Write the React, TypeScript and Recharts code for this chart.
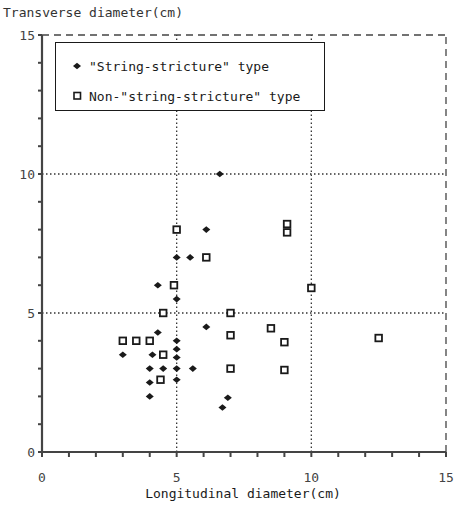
import React from 'react';
import { ScatterChart, Scatter, XAxis, YAxis, ReferenceLine, Legend } from 'recharts';

const stringType = [
  { x: 6.6, y: 10 }, { x: 6.1, y: 8 }, { x: 5, y: 7 }, { x: 5.5, y: 7 },
  { x: 4.3, y: 6 }, { x: 5, y: 5.5 }, { x: 6.1, y: 4.5 }, { x: 4.3, y: 4.3 },
  { x: 5, y: 4 }, { x: 5, y: 3.7 }, { x: 3, y: 3.5 }, { x: 4.1, y: 3.5 },
  { x: 5, y: 3.4 }, { x: 4, y: 3 }, { x: 4.5, y: 3 }, { x: 5, y: 3 },
  { x: 5.6, y: 3 }, { x: 4, y: 2.5 }, { x: 5, y: 2.6 }, { x: 4, y: 2 },
  { x: 6.9, y: 1.95 }, { x: 6.7, y: 1.6 },
];

const nonStringType = [
  { x: 5, y: 8 }, { x: 6.1, y: 7 }, { x: 4.9, y: 6 }, { x: 4.5, y: 5 },
  { x: 7, y: 5 }, { x: 7, y: 4.2 }, { x: 3, y: 4 }, { x: 3.5, y: 4 },
  { x: 4, y: 4 }, { x: 4.5, y: 3.5 }, { x: 7, y: 3 }, { x: 4.4, y: 2.6 },
  { x: 9.1, y: 8.2 }, { x: 9.1, y: 7.9 }, { x: 10, y: 5.9 }, { x: 8.5, y: 4.45 },
  { x: 9, y: 3.95 }, { x: 12.5, y: 4.1 }, { x: 9, y: 2.95 },
];

const axisTicks = [0, 1, 2, 3, 4, 5, 6, 7, 8, 9, 10, 11, 12, 13, 14, 15];
const labelledTicks = [0, 5, 10, 15];
const gridValues = [5, 10];

const FONT = '"DejaVu Sans Mono", "Liberation Mono", monospace';
const INK = '#1a1a1a';

const Diamond = (props: any) => {
  const { cx, cy } = props;
  return <path d={`M${cx - 4},${cy} L${cx},${cy - 3.3} L${cx + 4},${cy} L${cx},${cy + 3.3} Z`} fill={INK} />;
};

const Square = (props: any) => {
  const { cx, cy } = props;
  return <rect x={cx - 3.3} y={cy - 3.3} width={6.6} height={6.6} fill="#fff" stroke={INK} strokeWidth={1.8} />;
};

const XTick = (props: any) => {
  const { x, y, payload } = props;
  if (!labelledTicks.includes(payload.value)) return null;
  return (
    <text x={x} y={y + 23} textAnchor="middle" fontFamily={FONT} fontSize={13} fill="#444">
      {payload.value}
    </text>
  );
};

const YTick = (props: any) => {
  const { x, y, payload } = props;
  if (!labelledTicks.includes(payload.value)) return null;
  return (
    <text x={x - 1} y={y + 4.5} textAnchor="end" fontFamily={FONT} fontSize={13} fill="#444">
      {payload.value}
    </text>
  );
};

const LegendBox = () => (
  <div
    style={{
      border: `1.5px solid ${INK}`,
      background: '#fff',
      width: 270,
      height: 69,
      boxSizing: 'border-box',
      fontFamily: FONT,
      fontSize: 13,
      color: INK,
      paddingLeft: 15,
      paddingTop: 12,
    }}
  >
    <div style={{ display: 'flex', alignItems: 'center', height: 22 }}>
      <svg width={12} height={10} style={{ marginRight: 6 }}>
        <path d="M2,5 L6,1.7 L10,5 L6,8.3 Z" fill={INK} />
      </svg>
      <span>"String-stricture" type</span>
    </div>
    <div style={{ display: 'flex', alignItems: 'center', height: 22, marginTop: 8 }}>
      <svg width={12} height={10} style={{ marginRight: 6 }}>
        <rect x={3} y={1.5} width={6.5} height={6.5} fill="#fff" stroke={INK} strokeWidth={1.6} />
      </svg>
      <span>Non-"string-stricture" type</span>
    </div>
  </div>
);

export default function App() {
  return (
    <div style={{ position: 'absolute', left: 0, top: 0, width: 456, height: 506, background: '#fff' }}>
      <div
        style={{
          position: 'absolute',
          left: 3,
          top: 5,
          fontFamily: FONT,
          fontSize: 13,
          color: '#333',
          zIndex: 2,
          whiteSpace: 'nowrap',
        }}
      >
        Transverse diameter(cm)
      </div>
      <div
        style={{
          position: 'absolute',
          left: 0,
          width: 486,
          top: 486,
          textAlign: 'center',
          fontFamily: FONT,
          fontSize: 13,
          color: INK,
          zIndex: 2,
          whiteSpace: 'nowrap',
        }}
      >
        Longitudinal diameter(cm)
      </div>
      <ScatterChart width={456} height={506} margin={{ top: 35, right: 10, bottom: 0, left: 0 }}>
        <XAxis
          type="number"
          dataKey="x"
          domain={[0, 15]}
          ticks={axisTicks}
          interval={0}
          tickSize={5}
          height={54}
          axisLine={{ stroke: '#444', strokeWidth: 2.2 }}
          tickLine={{ stroke: '#444', strokeWidth: 2 }}
          tick={<XTick />}
        />
        <YAxis
          type="number"
          dataKey="y"
          domain={[0, 15]}
          ticks={axisTicks}
          interval={0}
          tickSize={4}
          width={42}
          axisLine={{ stroke: '#444', strokeWidth: 2.2 }}
          tickLine={{ stroke: '#444', strokeWidth: 2 }}
          tick={<YTick />}
        />
        {gridValues.map((v) => (
          <ReferenceLine key={`gx${v}`} x={v} stroke="#333" strokeWidth={1.3} strokeDasharray="1.5 2.5" />
        ))}
        {gridValues.map((v) => (
          <ReferenceLine key={`gy${v}`} y={v} stroke="#333" strokeWidth={1.3} strokeDasharray="1.5 2.5" />
        ))}
        <ReferenceLine y={15} stroke="#444" strokeWidth={1.3} strokeDasharray="7 5" />
        <ReferenceLine x={15} stroke="#444" strokeWidth={1.3} strokeDasharray="7 5" />
        <Legend
          layout="horizontal"
          verticalAlign="middle"
          align="center"
          content={<LegendBox />}
          wrapperStyle={{ left: 55, top: 42, width: 270, height: 69 }}
        />
        <Scatter name='"String-stricture" type' data={stringType} shape={<Diamond />} isAnimationActive={false} />
        <Scatter name='Non-"string-stricture" type' data={nonStringType} shape={<Square />} isAnimationActive={false} />
      </ScatterChart>
    </div>
  );
}
